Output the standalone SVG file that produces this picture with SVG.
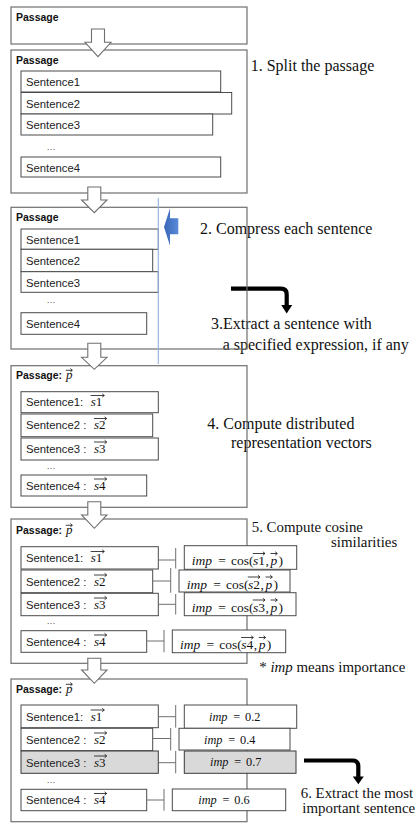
<svg xmlns="http://www.w3.org/2000/svg" width="417" height="826" viewBox="0 0 417 826">
  <defs>
    <style>
      .stage { fill: none; stroke: #6f6f6f; stroke-width: 1.2; }
      .sent { fill: #ffffff; stroke: #4a4a4a; stroke-width: 1; }
      .sent.hl { fill: #d9d9d9; stroke: #3a3a3a; }
      .impbox { fill: #ffffff; stroke: #4a4a4a; stroke-width: 1; }
      .impbox.hl { fill: #d9d9d9; stroke: #3a3a3a; }
      .lbl { font-family: "Liberation Sans", Arial, sans-serif; font-size: 11.3px; fill: #222222; }
      .pas { font-family: "Liberation Sans", Arial, sans-serif; font-size: 10.5px; font-weight: bold; fill: #111111; }
      .dots { font-family: "Liberation Sans", Arial, sans-serif; font-size: 9px; fill: #555555; }
      .math { font-family: "Liberation Serif", "Times New Roman", serif; font-size: 13px; fill: #111111; }
      .mathL { font-family: "Liberation Serif", "Times New Roman", serif; font-size: 13.5px; fill: #111111; }
      .mathS { font-family: "Liberation Serif", "Times New Roman", serif; font-size: 12.3px; fill: #111111; }
      .it { font-style: italic; }
      .note { font-family: "Liberation Serif", "Times New Roman", serif; font-size: 16px; fill: #111111; }
      .note.sm { font-size: 14.9px; }
      .vec { fill: none; stroke: #111111; stroke-width: 0.8; }
      .link { fill: none; stroke: #6f6f6f; stroke-width: 1; }
      .hollow { fill: #ffffff; stroke: #6f6f6f; stroke-width: 1.1; stroke-linejoin: miter; }
      .bend { fill: none; stroke: #000000; stroke-width: 4.2; }
    </style>
    <linearGradient id="blueFill" x1="0" y1="0" x2="1" y2="0">
      <stop offset="0" stop-color="#3a67b8"/>
      <stop offset="1" stop-color="#5a8ad8"/>
    </linearGradient>
  </defs>

  <rect width="417" height="826" fill="#ffffff"/>

  <!-- step annotations (box outlines are drawn over them) -->
  <g id="notes">
    <text class="note" x="250.7" y="71">1. Split the passage</text>
    <text class="note" x="200" y="234">2. Compress each sentence</text>
    <text class="note" x="211" y="329.3">3.Extract a sentence with</text>
    <text class="note" x="222.7" y="350">a specified expression, if any</text>
    <text class="note" x="207.3" y="429.3">4. Compute distributed</text>
    <text class="note" x="231" y="448.3">representation vectors</text>
    <text class="note sm" x="251.7" y="531.7">5. Compute cosine</text>
    <text class="note sm" x="331" y="547.3">similarities</text>
    <text class="note sm" x="259.3" y="671.7">* <tspan class="it">imp</tspan> means importance</text>
    <text class="note sm" x="300.7" y="797.7">6. Extract the most</text>
    <text class="note sm" x="302.3" y="813.3">important sentence</text>
  </g>

  <!-- bent black arrows sit below the stage outlines -->
  <g id="connectors-bent">
    <path class="bend" d="M231,288.7 H281 Q286.7,288.7 286.7,294.4 V306"/>
    <polygon points="281.2,305 292.2,305 286.7,313.5" fill="#000000"/>
    <path class="bend" d="M304,760.5 H352.5 Q358.3,760.5 358.3,766.3 V777.5"/>
    <polygon points="352.8,776.5 363.8,776.5 358.3,784.3" fill="#000000"/>
  </g>

  <!-- stage 0: whole passage -->
  <g id="stage-passage">
    <rect class="stage" x="11" y="7" width="236" height="37"/>
    <text class="pas" x="16" y="21">Passage</text>
  </g>

  <!-- stage 1: split into sentences -->
  <g id="stage-split">
    <rect class="stage" x="11" y="50" width="236" height="143"/>
    <text class="pas" x="16" y="64">Passage</text>
    <g id="split-s1"><rect class="sent" x="21" y="71" width="199.7" height="21"/><text class="lbl" x="26" y="86">Sentence1</text></g>
    <g id="split-s2"><rect class="sent" x="21" y="92.5" width="210.7" height="21.5"/><text class="lbl" x="26" y="107.5">Sentence2</text></g>
    <g id="split-s3"><rect class="sent" x="21" y="114" width="191.7" height="21"/><text class="lbl" x="26" y="129">Sentence3</text></g>
    <text class="dots" x="46.5" y="150">…</text>
    <g id="split-s4"><rect class="sent" x="21" y="157" width="199.7" height="20"/><text class="lbl" x="26" y="171.5">Sentence4</text></g>
  </g>

  <!-- stage 2: compressed sentences -->
  <g id="stage-compress">
    <rect class="stage" x="11" y="207.3" width="236" height="141.7"/>
    <text class="pas" x="16" y="220.7">Passage</text>
    <g id="comp-s1"><rect class="sent" x="21" y="229" width="137.3" height="20.3"/><text class="lbl" x="26" y="243.5">Sentence1</text></g>
    <g id="comp-s2"><rect class="sent" x="21" y="249.3" width="131.7" height="22.4"/><text class="lbl" x="26" y="265">Sentence2</text></g>
    <g id="comp-s3"><rect class="sent" x="21" y="271.7" width="137.3" height="20.6"/><text class="lbl" x="26" y="286.5">Sentence3</text></g>
    <text class="dots" x="46.5" y="303">…</text>
    <g id="comp-s4"><rect class="sent" x="21" y="312.7" width="125.7" height="21.6"/><text class="lbl" x="26" y="327.5">Sentence4</text></g>
    <line x1="158.3" y1="198" x2="158.3" y2="364" stroke="#8eb2e2" stroke-width="1.1"/>
    <path id="compress-marker" d="M164,227 L170,208.3 L170,218.3 L178.3,218.3 L178.3,234.3 L170,234.3 L170,245.7 Z" fill="url(#blueFill)"/>
  </g>

  <!-- stage 3: distributed representation vectors -->
  <g id="stage-vectors">
    <rect class="stage" x="11" y="365.7" width="236" height="141.6"/>
    <text class="pas" x="16" y="379.3">Passage:</text>
    <text class="math it" x="66" y="379.3">p</text>
    <path class="vec" d="M65.8,370.3 H72.3 M70.3,368.6 L72.3,370.3 L70.3,372"/>
    <g id="vec-s1"><rect class="sent" x="21" y="391.7" width="137.3" height="21"/>
      <text class="lbl" x="26" y="406">Sentence1:</text>
      <text class="math" x="90.7" y="406"><tspan class="it">s</tspan>1</text>
      <path class="vec" d="M90.7,395.5 H104.3 M102.2,393.8 L104.3,395.5 L102.2,397.2"/></g>
    <g id="vec-s2"><rect class="sent" x="21" y="414" width="131.7" height="22.7"/>
      <text class="lbl" x="26" y="429">Sentence2 :</text>
      <text class="math" x="94" y="429"><tspan class="it">s</tspan>2</text>
      <path class="vec" d="M94,418.5 H106.7 M104.6,416.8 L106.7,418.5 L104.6,420.2"/></g>
    <g id="vec-s3"><rect class="sent" x="21" y="438" width="137.3" height="22"/>
      <text class="lbl" x="26" y="452.5">Sentence3 :</text>
      <text class="math" x="94" y="452.5"><tspan class="it">s</tspan>3</text>
      <path class="vec" d="M94,442 H106.7 M104.6,440.3 L106.7,442 L104.6,443.7"/></g>
    <text class="dots" x="46.5" y="469">…</text>
    <g id="vec-s4"><rect class="sent" x="21" y="475" width="125.7" height="21"/>
      <text class="lbl" x="26" y="489.5">Sentence4 :</text>
      <text class="math" x="94" y="489.5"><tspan class="it">s</tspan>4</text>
      <path class="vec" d="M94,479 H106.7 M104.6,477.3 L106.7,479 L104.6,480.7"/></g>
  </g>

  <!-- stage 4: cosine similarities -->
  <g id="stage-cosine">
    <rect class="stage" x="11" y="519" width="236" height="144.3"/>
    <text class="pas" x="16" y="534.3">Passage:</text>
    <text class="math it" x="66" y="534.3">p</text>
    <path class="vec" d="M65.8,525.3 H72.3 M70.3,523.6 L72.3,525.3 L70.3,527"/>
    <g id="cos-s1"><rect class="sent" x="21" y="546.7" width="137.3" height="22.3"/>
      <text class="lbl" x="26" y="562">Sentence1:</text>
      <text class="math" x="90.7" y="562"><tspan class="it">s</tspan>1</text>
      <path class="vec" d="M90.7,551.5 H104.3 M102.2,549.8 L104.3,551.5 L102.2,553.2"/></g>
    <g id="cos-s2"><rect class="sent" x="21" y="570" width="131.7" height="22.7"/>
      <text class="lbl" x="26" y="585.5">Sentence2 :</text>
      <text class="math" x="94" y="585.5"><tspan class="it">s</tspan>2</text>
      <path class="vec" d="M94,575 H106.7 M104.6,573.3 L106.7,575 L104.6,576.7"/></g>
    <g id="cos-s3"><rect class="sent" x="21" y="593.3" width="137.3" height="22.4"/>
      <text class="lbl" x="26" y="608.5">Sentence3 :</text>
      <text class="math" x="94" y="608.5"><tspan class="it">s</tspan>3</text>
      <path class="vec" d="M94,598 H106.7 M104.6,596.3 L106.7,598 L104.6,599.7"/></g>
    <text class="dots" x="46.5" y="624">…</text>
    <g id="cos-s4"><rect class="sent" x="21" y="630.7" width="125.7" height="21.6"/>
      <text class="lbl" x="26" y="645.5">Sentence4 :</text>
      <text class="math" x="94" y="645.5"><tspan class="it">s</tspan>4</text>
      <path class="vec" d="M94,635 H106.7 M104.6,633.3 L106.7,635 L104.6,636.7"/></g>

    <g id="cos-imp1"><rect class="impbox" x="184.3" y="545.7" width="112.4" height="23.6"/>
      <text class="mathL"><tspan class="it" x="191.7" y="565">imp</tspan><tspan x="218.3" y="565">=</tspan><tspan x="231" y="565">cos(</tspan><tspan class="it" x="253" y="565">s</tspan><tspan x="258.3" y="565">1</tspan><tspan x="265.5" y="565">,</tspan><tspan class="it" x="270.5" y="565">p</tspan><tspan x="278.5" y="565">)</tspan></text>
      <path class="vec" d="M252.8,553.5 H265 M262.9,551.8 L265,553.5 L262.9,555.2 M270.5,553.5 H277.3 M275.2,551.8 L277.3,553.5 L275.2,555.2"/></g>
    <g id="cos-imp2"><rect class="impbox" x="179" y="570" width="111" height="22"/>
      <text class="mathL"><tspan class="it" x="186.7" y="588.5">imp</tspan><tspan x="213.3" y="588.5">=</tspan><tspan x="226" y="588.5">cos(</tspan><tspan class="it" x="248" y="588.5">s</tspan><tspan x="253.3" y="588.5">2</tspan><tspan x="260.5" y="588.5">,</tspan><tspan class="it" x="265.5" y="588.5">p</tspan><tspan x="273.5" y="588.5">)</tspan></text>
      <path class="vec" d="M247.8,577 H260 M257.9,575.3 L260,577 L257.9,578.7 M265.5,577 H272.3 M270.2,575.3 L272.3,577 L270.2,578.7"/></g>
    <g id="cos-imp3"><rect class="impbox" x="184.3" y="592.7" width="111.7" height="23"/>
      <text class="mathL"><tspan class="it" x="191.7" y="611.5">imp</tspan><tspan x="218.3" y="611.5">=</tspan><tspan x="231" y="611.5">cos(</tspan><tspan class="it" x="253" y="611.5">s</tspan><tspan x="258.3" y="611.5">3</tspan><tspan x="265.5" y="611.5">,</tspan><tspan class="it" x="270.5" y="611.5">p</tspan><tspan x="278.5" y="611.5">)</tspan></text>
      <path class="vec" d="M252.8,600 H265 M262.9,598.3 L265,600 L262.9,601.7 M270.5,600 H277.3 M275.2,598.3 L277.3,600 L275.2,601.7"/></g>
    <g id="cos-imp4"><rect class="impbox" x="172.3" y="630" width="113.4" height="22.7"/>
      <text class="mathL"><tspan class="it" x="180" y="649">imp</tspan><tspan x="206.6" y="649">=</tspan><tspan x="219.3" y="649">cos(</tspan><tspan class="it" x="241.3" y="649">s</tspan><tspan x="246.6" y="649">4</tspan><tspan x="253.8" y="649">,</tspan><tspan class="it" x="258.8" y="649">p</tspan><tspan x="266.8" y="649">)</tspan></text>
      <path class="vec" d="M241.1,637.5 H253.3 M251.2,635.8 L253.3,637.5 L251.2,639.2 M258.8,637.5 H265.6 M263.5,635.8 L265.6,637.5 L263.5,639.2"/></g>
  </g>

  <!-- stage 5: importance scores, highest one shaded -->
  <g id="stage-extract">
    <rect class="stage" x="11" y="679" width="236" height="142.7"/>
    <text class="pas" x="16" y="693.3">Passage:</text>
    <text class="math it" x="66" y="693.3">p</text>
    <path class="vec" d="M65.8,684.3 H72.3 M70.3,682.6 L72.3,684.3 L70.3,686"/>
    <g id="ext-s1"><rect class="sent" x="21" y="705" width="137.3" height="22.7"/>
      <text class="lbl" x="26" y="720.5">Sentence1:</text>
      <text class="math" x="90.7" y="720.5"><tspan class="it">s</tspan>1</text>
      <path class="vec" d="M90.7,710 H104.3 M102.2,708.3 L104.3,710 L102.2,711.7"/></g>
    <g id="ext-s2"><rect class="sent" x="21" y="728.3" width="131.7" height="22.4"/>
      <text class="lbl" x="26" y="743.5">Sentence2 :</text>
      <text class="math" x="94" y="743.5"><tspan class="it">s</tspan>2</text>
      <path class="vec" d="M94,733 H106.7 M104.6,731.3 L106.7,733 L104.6,734.7"/></g>
    <g id="ext-s3"><rect class="sent hl" x="21" y="751" width="137.3" height="22.3"/>
      <text class="lbl" x="26" y="766.5">Sentence3 :</text>
      <text class="math" x="94" y="766.5"><tspan class="it">s</tspan>3</text>
      <path class="vec" d="M94,756 H106.7 M104.6,754.3 L106.7,756 L104.6,757.7"/></g>
    <text class="dots" x="46.5" y="783">…</text>
    <g id="ext-s4"><rect class="sent" x="21" y="789.3" width="125.7" height="21.4"/>
      <text class="lbl" x="26" y="804">Sentence4 :</text>
      <text class="math" x="94" y="804"><tspan class="it">s</tspan>4</text>
      <path class="vec" d="M94,793.5 H106.7 M104.6,791.8 L106.7,793.5 L104.6,795.2"/></g>

    <g id="ext-imp1"><rect class="impbox" x="184.3" y="705" width="112.4" height="23.3"/>
      <text class="mathS"><tspan class="it" x="209" y="720.5">imp</tspan><tspan x="233.3" y="720.5">=</tspan><tspan x="245" y="720.5">0.2</tspan></text></g>
    <g id="ext-imp2"><rect class="impbox" x="179" y="728.3" width="111" height="21.7"/>
      <text class="mathS"><tspan class="it" x="204" y="743.5">imp</tspan><tspan x="228.3" y="743.5">=</tspan><tspan x="240" y="743.5">0.4</tspan></text></g>
    <g id="ext-imp3"><rect class="impbox hl" x="184.3" y="751" width="111.7" height="22.3"/>
      <text class="mathS"><tspan class="it" x="210" y="766.3">imp</tspan><tspan x="234.3" y="766.3">=</tspan><tspan x="246" y="766.3">0.7</tspan></text></g>
    <g id="ext-imp4"><rect class="impbox" x="172.3" y="789" width="113.4" height="21.7"/>
      <text class="mathS"><tspan class="it" x="198.3" y="803.8">imp</tspan><tspan x="222.6" y="803.8">=</tspan><tspan x="234.3" y="803.8">0.6</tspan></text></g>
  </g>

  <!-- sentence-to-score links and flow arrows between stages -->
  <g id="connectors">
    <path class="link" d="M158.3,560 H175.7 M175.7,548 V568.5"/>
    <path class="link" d="M152.7,581 H170.7 M170.7,568 V592.7"/>
    <path class="link" d="M158.3,604.3 H175.7 M175.7,594 V614.5"/>
    <path class="link" d="M146.7,641 H164 M164,630 V652.3"/>
    <path class="link" d="M158.3,716.7 H175.7 M175.7,705 V727.7"/>
    <path class="link" d="M152.7,738.5 H170.7 M170.7,728 V750.5"/>
    <path class="link" d="M158.3,762.7 H175.7 M175.7,751 V773.3"/>
    <path class="link" d="M146.7,800 H164 M164,789 V810.7"/>

    <polygon class="hollow" points="91.5,29 104.5,29 104.5,42.3 111,42.3 98,56.7 85,42.3 91.5,42.3"/>
    <polygon class="hollow" points="87.8,187 100.8,187 100.8,200 107,200 94.3,212.7 81.6,200 87.8,200"/>
    <polygon class="hollow" points="87.8,343.3 100.8,343.3 100.8,357.3 107,357.3 94.3,369.3 81.6,357.3 87.8,357.3"/>
    <polygon class="hollow" points="87.8,501.7 100.8,501.7 100.8,515 107,515 94.3,528.3 81.6,515 87.8,515"/>
    <polygon class="hollow" points="87.8,658.3 100.8,658.3 100.8,670 107,670 94.3,683.3 81.6,670 87.8,670"/>
  </g>
</svg>
